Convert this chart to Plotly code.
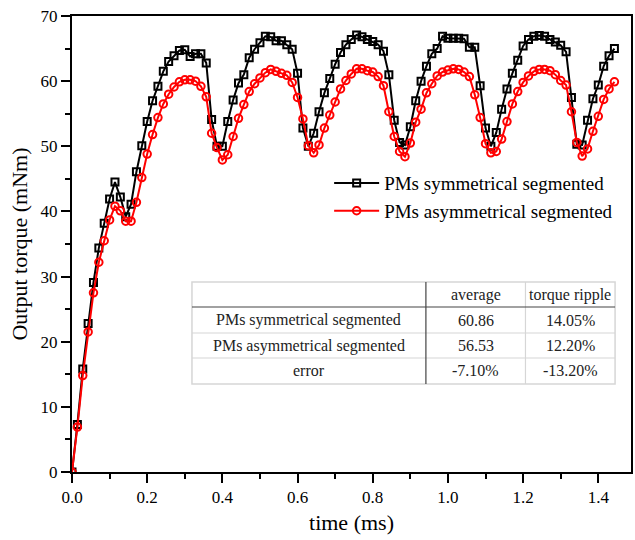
import plotly.graph_objects as go

# time axis (ms), one sample every 1/70 ms
time_ms = [
    0.0, 0.0143, 0.0286, 0.0429, 0.0571, 0.0714, 0.0857,
    0.1, 0.1143, 0.1286, 0.1429, 0.1571, 0.1714, 0.1857,
    0.2, 0.2143, 0.2286, 0.2429, 0.2571, 0.2714, 0.2857,
    0.3, 0.3143, 0.3286, 0.3429, 0.3571, 0.3714, 0.3857,
    0.4, 0.4143, 0.4286, 0.4429, 0.4571, 0.4714, 0.4857,
    0.5, 0.5143, 0.5286, 0.5429, 0.5571, 0.5714, 0.5857,
    0.6, 0.6143, 0.6286, 0.6429, 0.6571, 0.6714, 0.6857,
    0.7, 0.7143, 0.7286, 0.7429, 0.7571, 0.7714, 0.7857,
    0.8, 0.8143, 0.8286, 0.8429, 0.8571, 0.8714, 0.8857,
    0.9, 0.9143, 0.9286, 0.9429, 0.9571, 0.9714, 0.9857,
    1.0, 1.0143, 1.0286, 1.0429, 1.0571, 1.0714, 1.0857,
    1.1, 1.1143, 1.1286, 1.1429, 1.1571, 1.1714, 1.1857,
    1.2, 1.2143, 1.2286, 1.2429, 1.2571, 1.2714, 1.2857,
    1.3, 1.3143, 1.3286, 1.3429, 1.3571, 1.3714, 1.3857,
    1.4, 1.4143, 1.4286, 1.4429,
]

torque_sym = [
    0, 7.3, 15.8, 22.8, 29.1, 34.4, 38.2, 41.9, 44.5, 42.2,
    39.2, 41.1, 46.1, 50.1, 53.8, 57.0, 59.2, 61.5, 63.0, 63.9,
    64.7, 64.8, 63.8, 64.2, 64.2, 62.8, 54.1, 50.0, 50.0, 53.8,
    57.1, 59.7, 61.0, 63.6, 64.9, 65.9, 66.9, 66.8, 66.2, 66.2,
    65.6, 64.9, 61.2, 52.8, 50.0, 52.0, 55.3, 58.2, 60.4, 62.6,
    64.4, 65.6, 66.4, 67.1, 66.8, 66.4, 66.1, 65.6, 64.6, 61.0,
    54.0, 50.6, 50.2, 53.0, 57.0, 60.0, 62.3, 64.2, 65.0, 66.9,
    66.6, 66.6, 66.6, 66.5, 65.2, 65.2, 59.3, 52.8, 50.0, 52.1,
    55.7, 58.8, 61.2, 63.2, 65.4, 66.4, 66.9, 67.0, 66.9, 66.4,
    66.0, 65.5, 64.5, 57.5, 50.3, 50.2, 54.0, 57.3, 59.4, 62.3,
    63.9, 65.0,
]

torque_asym = [
    0, 6.9, 14.8, 21.5, 27.5, 32.2, 35.5, 38.7, 40.8, 40.1,
    38.5, 38.5, 41.4, 45.2, 48.8, 51.8, 54.4, 56.5, 58.0, 59.1,
    59.9, 60.2, 60.2, 60.0, 59.2, 57.6, 52.0, 49.8, 47.9, 48.7,
    51.5, 54.3, 56.4, 58.4, 59.6, 60.5, 61.3, 61.8, 61.5, 61.2,
    60.9, 59.8, 57.5, 54.2, 50.1, 49.0, 50.2, 52.8, 54.8, 56.8,
    58.8, 60.1, 61.1, 61.9, 61.9, 61.6, 61.4, 60.7, 59.3, 55.3,
    51.5, 49.2, 48.4, 50.5, 53.7, 55.7, 58.2, 59.6, 60.8, 61.4,
    61.7, 61.9, 61.8, 61.4, 60.7, 57.9, 54.4, 50.4, 49.0, 49.2,
    51.1, 53.8, 56.5, 58.4, 59.8, 60.8, 61.5, 61.8, 61.8, 61.6,
    61.0, 60.1, 59.4, 55.3, 50.6, 48.5, 49.6, 52.3, 54.6, 57.2,
    58.8, 59.9,
]

series_names = ["PMs symmetrical segmented", "PMs asymmetrical segmented"]

table_header = ["", "average", "torque ripple"]
table_rows = [
    ["PMs symmetrical segmented", "60.86", "14.05%"],
    ["PMs asymmetrical segmented", "56.53", "12.20%"],
    ["error", "-7.10%", "-13.20%"],
]

FONT = "Liberation Serif, Times New Roman, serif"

fig = go.Figure()
fig.add_trace(go.Scatter(
    x=time_ms, y=torque_sym, name=series_names[0], mode="lines+markers",
    line=dict(color="black", width=2),
    marker=dict(symbol="square-open", size=7, color="black",
                line=dict(width=2, color="black")),
))
fig.add_trace(go.Scatter(
    x=time_ms, y=torque_asym, name=series_names[1], mode="lines+markers",
    line=dict(color="#ff0000", width=2),
    marker=dict(symbol="circle-open", size=7.5, color="#ff0000",
                line=dict(width=2, color="#ff0000")),
))

# table drawn as shapes + text in paper coordinates
col_x = [0.2146, 0.6331, 0.8112, 0.9715]
row_y = [0.4167, 0.3618, 0.3048, 0.25, 0.193]
light = "#d6d6d6"
dark = "#444444"
shapes = []
shapes.append(dict(type="rect", xref="paper", yref="paper", x0=col_x[0], x1=col_x[3],
                   y0=row_y[4], y1=row_y[0], fillcolor="white",
                   line=dict(color=light, width=1.5), layer="above"))
for yy in row_y[2:4]:
    shapes.append(dict(type="line", xref="paper", yref="paper", x0=col_x[0], x1=col_x[3],
                       y0=yy, y1=yy, line=dict(color=light, width=1.2)))
shapes.append(dict(type="line", xref="paper", yref="paper", x0=col_x[2], x1=col_x[2],
                   y0=row_y[4], y1=row_y[0], line=dict(color=light, width=1.2)))
shapes.append(dict(type="line", xref="paper", yref="paper", x0=col_x[0], x1=col_x[3],
                   y0=row_y[1], y1=row_y[1], line=dict(color=dark, width=1.2)))
shapes.append(dict(type="line", xref="paper", yref="paper", x0=col_x[1], x1=col_x[1],
                   y0=row_y[4], y1=row_y[0], line=dict(color=dark, width=1.2)))

annotations = []
all_rows = [table_header] + table_rows
for r, row in enumerate(all_rows):
    yc = (row_y[r] + row_y[r + 1]) / 2
    for c, txt in enumerate(row):
        if not txt:
            continue
        xc = (col_x[c] + col_x[c + 1]) / 2
        annotations.append(dict(xref="paper", yref="paper", x=xc, y=yc, text=txt,
                                showarrow=False, xanchor="center", yanchor="middle",
                                font=dict(family=FONT, size=16, color="#222222")))

axis_common = dict(
    showline=True, linecolor="black", linewidth=2, mirror=True,
    ticks="outside", ticklen=9, tickwidth=2, tickcolor="black",
    showgrid=False, zeroline=False,
    tickfont=dict(family=FONT, size=17, color="black"),
)

fig.update_layout(
    width=635, height=540,
    margin=dict(l=72, r=2, t=16, b=68),
    paper_bgcolor="white", plot_bgcolor="white",
    font=dict(family=FONT, color="black"),
    xaxis=dict(axis_common, range=[0, 1.487], dtick=0.2, tickformat=".1f",
               title=dict(text="time (ms)", font=dict(family=FONT, size=22), standoff=8),
               minor=dict(ticks="outside", ticklen=5, tickwidth=2, tickcolor="black", dtick=0.1)),
    yaxis=dict(axis_common, range=[0, 70], dtick=10,
               title=dict(text="Output torque (mNm)", font=dict(family=FONT, size=22), standoff=7),
               minor=dict(ticks="outside", ticklen=5, tickwidth=2, tickcolor="black", dtick=5)),
    legend=dict(x=0.46, y=0.675, xanchor="left", yanchor="top",
                bgcolor="rgba(0,0,0,0)", font=dict(family=FONT, size=19),
                itemwidth=45, tracegroupgap=0),
    shapes=shapes,
    annotations=annotations,
    showlegend=True,
)

fig.write_html("out.html", config={"displayModeBar": False},
               post_script="document.body.style.margin='0';")
